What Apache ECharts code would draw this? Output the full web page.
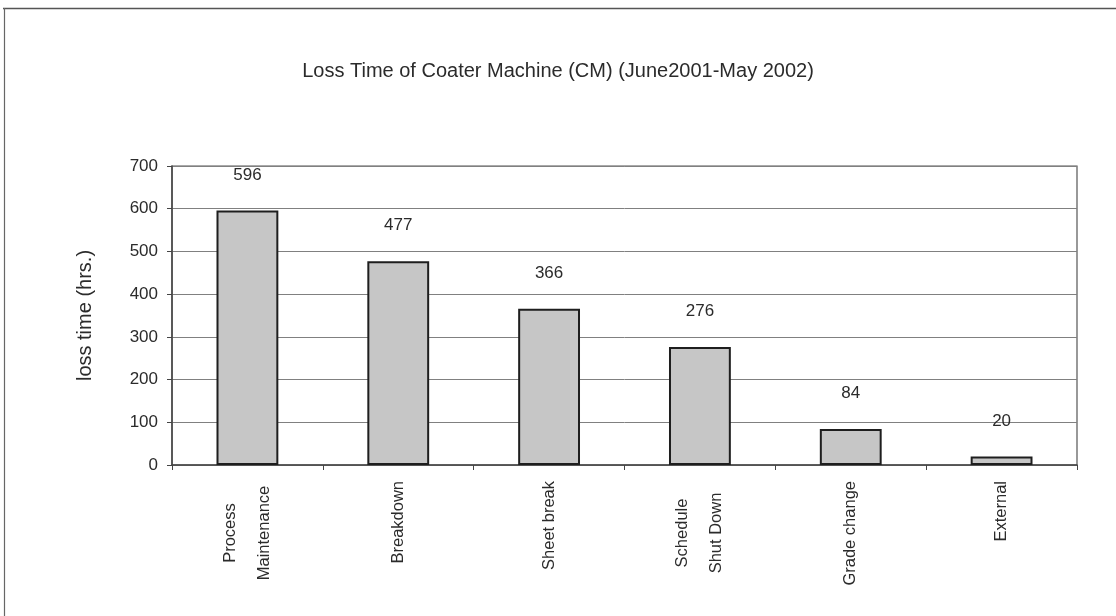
<!DOCTYPE html>
<html>
<head>
<meta charset="utf-8">
<title>Loss Time of Coater Machine</title>
<script src="https://cdn.jsdelivr.net/npm/echarts@6/dist/echarts.min.js"></script>
<style>
  html, body { margin: 0; padding: 0; background: #ffffff; }
  #chart { width: 1116px; height: 616px; }
</style>
</head>
<body>
<div id="chart"></div>
<script>
// Loss time per cause, June 2001 - May 2002
const categories = ['Process\nMaintenance', 'Breakdown', 'Sheet break', 'Schedule\nShut Down', 'Grade change', 'External'];
const lossHours = [596, 477, 366, 276, 84, 20];
const yTicks = [0, 100, 200, 300, 400, 500, 600, 700];

const FONT = '"Liberation Sans", Arial, sans-serif';
const INK = '#2b2b2b';

const chart = echarts.init(document.getElementById('chart'), null, { renderer: 'canvas' });

// multi-line categories keep their lines centred on each other
function catLabel(v) {
  const lines = v.split('\n');
  if (lines.length === 1) return v;
  return lines.map(l => '{c|' + l + '}').join('\n');
}

chart.setOption({
  backgroundColor: '#ffffff',
  animation: false,
  title: {
    text: 'Loss Time of Coater Machine (CM) (June2001-May 2002)',
    left: 'center',
    top: 56,
    textStyle: { fontFamily: FONT, fontSize: 20, fontWeight: 'normal', color: INK }
  },
  graphic: [
    { type: 'line', shape: { x1: 3, y1: 8.5, x2: 1116, y2: 8.5 }, style: { stroke: '#555', lineWidth: 1.5 }, silent: true },
    { type: 'line', shape: { x1: 4.5, y1: 8, x2: 4.5, y2: 616 }, style: { stroke: '#666', lineWidth: 1.2 }, silent: true }
  ],
  grid: {
    left: 172, right: 39, top: 166, bottom: 151,
    show: true, borderColor: '#555', borderWidth: 1.2, backgroundColor: 'transparent'
  },
  xAxis: {
    type: 'category',
    data: categories,
    axisLine: { lineStyle: { color: '#444', width: 1.5 } },
    axisTick: { show: true, length: 5, alignWithLabel: false, lineStyle: { color: '#444' } },
    axisLabel: {
      rotate: 90, margin: 16, interval: 0,
      fontFamily: FONT, fontSize: 16.5, color: INK, lineHeight: 34,
      formatter: catLabel,
      rich: { c: { fontFamily: FONT, fontSize: 16.5, color: INK, width: 104, align: 'center', lineHeight: 34 } }
    }
  },
  yAxis: {
    type: 'value',
    min: 0, max: 700, interval: 100,
    name: 'loss time (hrs.)',
    nameLocation: 'middle',
    nameGap: 77,
    nameTextStyle: { fontFamily: FONT, fontSize: 20, color: INK },
    axisLine: { show: true, lineStyle: { color: '#444', width: 1.5 } },
    axisTick: { show: true, length: 5, lineStyle: { color: '#444' } },
    axisLabel: {
      margin: 14, fontFamily: FONT, fontSize: 17, color: INK,
      formatter: v => (yTicks.includes(v) ? String(v) : '')
    },
    splitLine: { lineStyle: { color: '#808080', width: 1 } }
  },
  series: [{
    type: 'bar',
    data: lossHours,
    barWidth: '41%',
    itemStyle: { color: '#c6c6c6', borderColor: '#1e1e1e', borderWidth: 2 },
    label: {
      show: true, position: 'top', distance: 27,
      fontFamily: FONT, fontSize: 17, color: INK
    }
  }]
});
</script>
</body>
</html>
